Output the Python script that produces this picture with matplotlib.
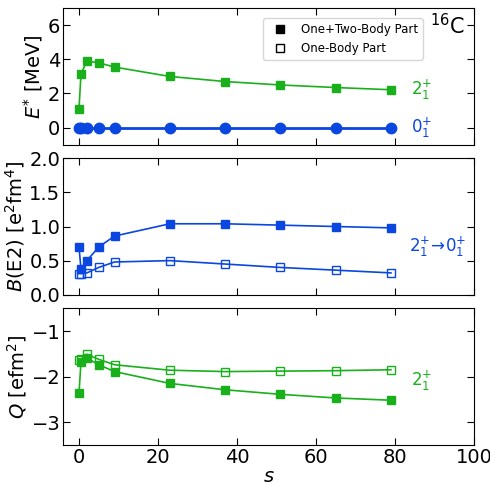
import matplotlib
matplotlib.use("Agg")
import matplotlib.pyplot as plt

# flow parameter s
s = [0, 0.5, 2, 5, 9, 23, 37, 51, 65, 79]

# excitation energies [MeV]
e_2plus = [1.1, 3.15, 3.9, 3.8, 3.55, 3.0, 2.7, 2.5, 2.35, 2.22]
e_0plus = [0, 0, 0, 0, 0, 0, 0, 0, 0, 0]

# B(E2) [e^2 fm^4]
be2_full = [0.70, 0.38, 0.50, 0.70, 0.86, 1.04, 1.04, 1.02, 1.00, 0.98]
be2_one = [0.31, 0.31, 0.32, 0.40, 0.48, 0.50, 0.45, 0.40, 0.36, 0.32]

# Q [e fm^2]
q_full = [-2.37, -1.68, -1.59, -1.74, -1.89, -2.15, -2.29, -2.39, -2.47, -2.52]
q_one = [-1.64, -1.62, -1.51, -1.62, -1.74, -1.86, -1.89, -1.88, -1.87, -1.85]

green = '#19b01c'
blue = '#0a46e0'

fig, axes = plt.subplots(3, 1, figsize=(4.9, 4.84), dpi=100, sharex=True)
fig.subplots_adjust(left=0.129, right=0.967, top=0.983, bottom=0.081, hspace=0.1)
ax1, ax2, ax3 = axes

# energies
ax1.plot(s, e_2plus, '-s', color=green, ms=6, lw=1.2)
ax1.plot(s, e_0plus, '-o', color=blue, ms=7.5, lw=2)
ax1.set_ylim(-1, 7)
ax1.set_yticks([0, 2, 4, 6])
ax1.set_ylabel('$E^{*}$ [MeV]', fontsize=14, labelpad=2)
ax1.text(84, 2.2, '$2_1^{+}$', color=green, fontsize=12, va='center')
ax1.text(84, 0, '$0_1^{+}$', color=blue, fontsize=12, va='center')
ax1.text(89, 6.0, '$^{16}$C', fontsize=15, va='center')
h1, = ax1.plot([], [], 's', color='black', ms=6, label='One+Two-Body Part')
h2, = ax1.plot([], [], 's', color='black', mfc='none', ms=6, label='One-Body Part')
ax1.legend(handles=[h1, h2], loc='upper right', bbox_to_anchor=(0.89, 0.97),
           fontsize=8.5, handletextpad=0.8, borderpad=0.4)

# B(E2)
ax2.plot(s, be2_full, '-s', color=blue, ms=6, lw=1.2)
ax2.plot(s, be2_one, '-s', color=blue, mfc='none', ms=6, lw=1.2)
ax2.set_ylim(0, 2)
ax2.set_yticks([0, 0.5, 1.0, 1.5, 2.0])
ax2.set_ylabel('$B$(E2) [e$^2$fm$^4$]', fontsize=14, labelpad=2)
ax2.text(83.5, 0.7, r'$2_1^{+}\!\rightarrow\!0_1^{+}$', color=blue, fontsize=12, va='center')

# Q
ax3.plot(s, q_full, '-s', color=green, ms=6, lw=1.2)
ax3.plot(s, q_one, '-s', color=green, mfc='none', ms=6, lw=1.2)
ax3.set_ylim(-3.5, -0.5)
ax3.set_yticks([-1, -2, -3])
ax3.set_ylabel('$Q$ [efm$^2$]', fontsize=14, labelpad=2)
ax3.text(84, -2.1, '$2_1^{+}$', color=green, fontsize=12, va='center')

ax3.set_xlim(-4, 100)
ax3.set_xticks([0, 20, 40, 60, 80, 100])
ax3.set_xlabel('$s$', fontsize=14, labelpad=0)

for ax in axes:
    ax.tick_params(direction='in', top=True, right=True, labelsize=14, length=5, pad=2)

fig.savefig('out.png', dpi=100)
